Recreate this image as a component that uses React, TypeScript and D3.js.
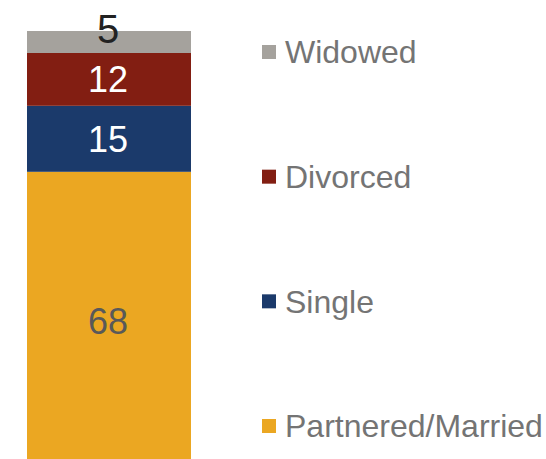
import React from 'react';
import * as d3 from 'd3';

const categories = ['Partnered/Married', 'Single', 'Divorced', 'Widowed'];
const values = [68, 15, 12, 5];
const colors = ['#EBA722', '#1B3A6B', '#821E12', '#A5A29D'];
const labelColors = ['#595959', '#ffffff', '#ffffff', '#222222'];

const width = 546, height = 459;

export default function App() {
  const y = d3.scaleLinear().domain([0, 100]).range([471, 31]);
  const x = d3.scaleBand().domain(['all']).range([27, 191]).padding(0);

  const stacked = d3.stack<any>().keys(categories)([
    Object.fromEntries(categories.map((c, i) => [c, values[i]]))
  ]);

  // legend positions, top to bottom is reversed order
  const legendY = d3.scalePoint<string>()
    .domain(categories.slice().reverse())
    .range([52, 426]);

  return (
    <svg width={width} height={height}
      style={{ position: 'absolute', left: 0, top: 0, fontFamily: 'Liberation Sans, Arial, sans-serif' }}>
      {stacked.map((s, i) => {
        const d = s[0];
        const y0 = y(d[0]), y1 = y(d[1]);
        const isTop = i === stacked.length - 1;
        return (
          <g key={s.key}>
            <rect x={x('all')} y={y1} width={x.bandwidth()} height={y0 - y1} fill={colors[i]} />
            <text x={x('all')! + x.bandwidth() / 2 - 1}
              y={isTop ? 43 : (y0 + y1) / 2}
              dy={isTop ? 0 : '0.36em'}
              textAnchor="middle"
              fontSize={isTop ? 40 : 36}
              fill={labelColors[i]}>{values[i]}</text>
          </g>
        );
      })}
      {categories.map((c, i) => (
        <g key={c} transform={`translate(262,${legendY(c)})`}>
          <rect x={0} y={-7} width={14} height={14} fill={colors[i]} />
          <text x={23} y={0} dy="0.35em" fontSize={32} fill="#747474">{c}</text>
        </g>
      ))}
    </svg>
  );
}
